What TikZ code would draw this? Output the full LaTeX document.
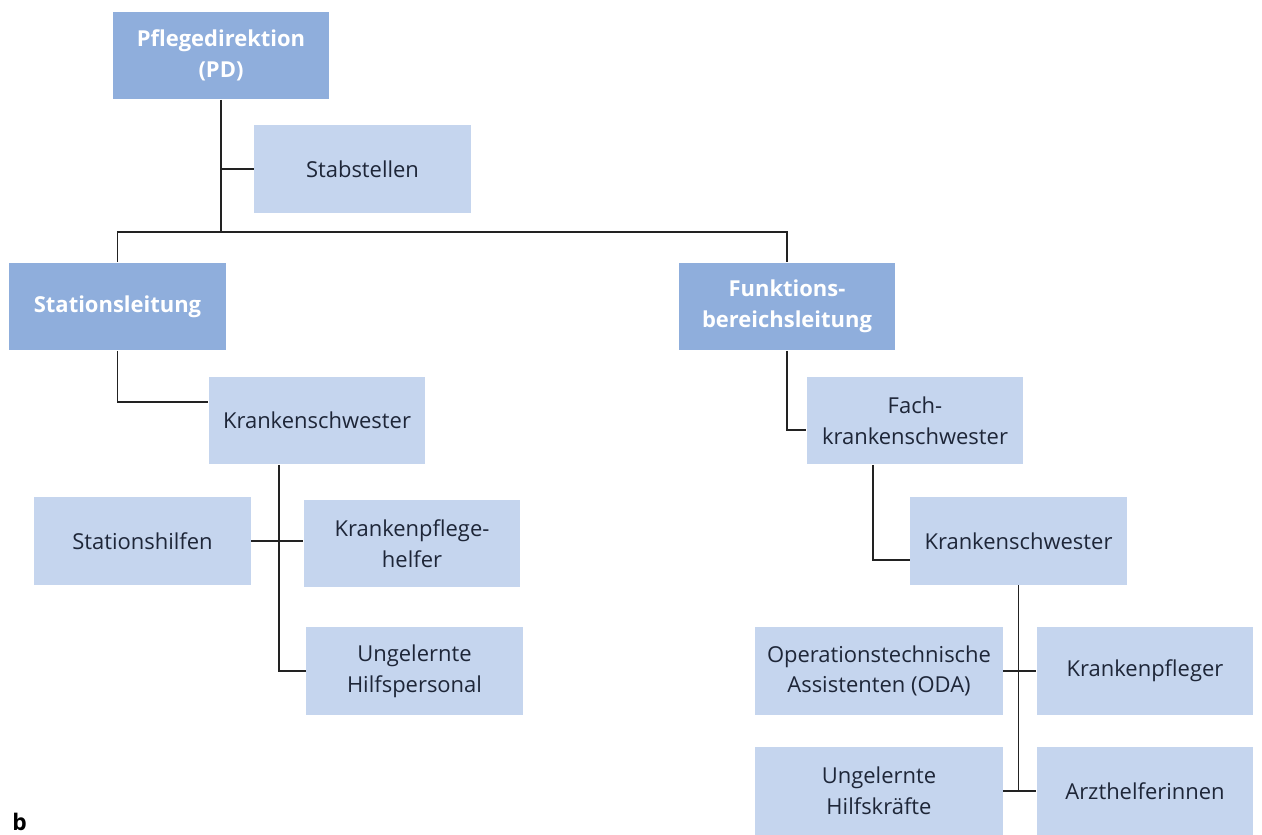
\documentclass[tikz,border=0pt]{standalone}
\usepackage{fontspec}
\setmainfont{Open Sans}
\usetikzlibrary{positioning,calc}
\definecolor{headblue}{HTML}{8FAEDC}
\definecolor{boxblue}{HTML}{C5D5EE}
\definecolor{inkblue}{HTML}{1E2638}
\definecolor{linegray}{HTML}{222222}

\begin{document}
\begin{tikzpicture}[x=0.02cm, y=-0.02cm,
  box/.style={rectangle, fill=boxblue, text=inkblue, minimum width=4.34cm, minimum height=1.76cm, align=center, inner sep=0pt, font=\fontsize{12.5}{17.5}\selectfont},
  head/.style={box, fill=headblue, text=white, font=\fontsize{12.5}{17.5}\selectfont\bfseries},
  link/.style={draw=linegray, line width=1.1pt}]
  \useasboundingbox (0,0) rectangle (1262,835);
  \node[head] (pd) at (221,55.5) {Pflegedirektion\\(PD)};
  \node[box] (stab) at (362.5,169) {Stabstellen};
  \node[head] (stl) at (117.5,306.5) {Stationsleitung};
  \node[head] (fbl) at (787,306.5) {Funktions-\\bereichsleitung};
  \node[box] (ks1) at (317,420.5) {Krankenschwester};
  \node[box] (fks) at (915,420.5) {Fach-\\krankenschwester};
  \node[box] (ks2) at (1018.5,541) {Krankenschwester};
  \node[box] (sth) at (142.5,541) {Stationshilfen};
  \node[box] (kph) at (412,543.5) {Krankenpflege-\\helfer};
  \node[box] (uhp) at (414.5,671) {Ungelernte\\Hilfspersonal};
  \node[box, minimum width=4.96cm] (oda) at (879,671) {Operationstechnische\\Assistenten (ODA)};
  \node[box] (kpf) at (1145,671) {Krankenpfleger};
  \node[box, minimum width=4.96cm] (uhk) at (879,791) {Ungelernte\\Hilfskräfte};
  \node[box] (arz) at (1145,791) {Arzthelferinnen};
  \node[font=\bfseries\fontsize{13}{15}\selectfont, anchor=base west, inner sep=0pt] (fig) at (12,830) {b};
  % Leitungsebene
  \coordinate (bus) at (0,232);
  \draw[link] (pd.south) -- (pd.south |- bus);
  \draw[link] (pd.south |- stab.west) -- (stab.west);
  \draw[link] (stl.north) -- (stl.north |- bus) -- (fbl.north |- bus) -- (fbl.north);
  % Station
  \draw[link] (stl.south) |- ([yshift=0.37cm]ks1.west);
  \draw[link] ([xshift=-0.76cm]ks1.south) |- (uhp.west);
  \draw[link] (sth.east) -- (sth.east -| kph.west);
  % Funktionsbereich
  \draw[link] (fbl.south) |- ([yshift=-0.19cm]fks.west);
  \draw[link] ([xshift=-0.84cm]fks.south) |- ([yshift=-0.38cm]ks2.west);
  \draw[link] (ks2.south) -- (ks2.south |- uhk.east);
  \draw[link] (oda.east) -- (kpf.west);
  \draw[link] (uhk.east) -- (arz.west);
\end{tikzpicture}
\end{document}
